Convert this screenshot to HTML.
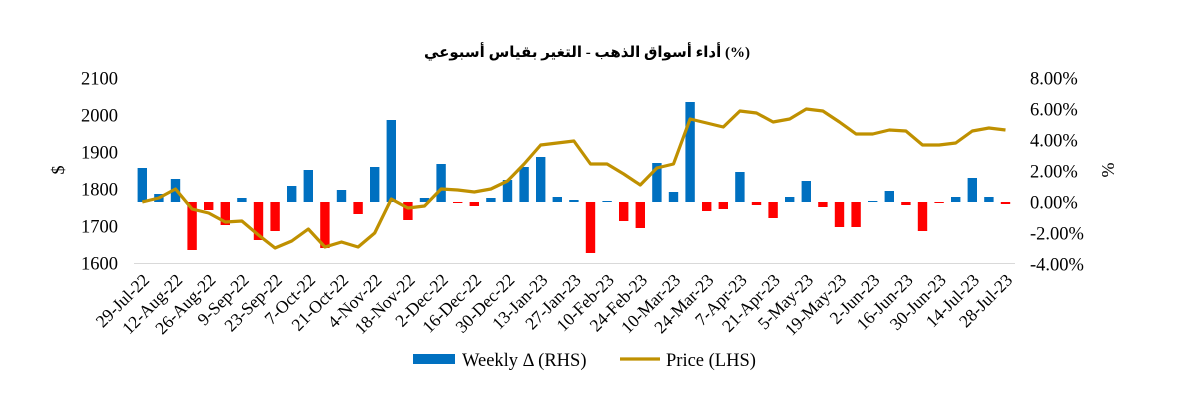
<!DOCTYPE html>
<html><head><meta charset="utf-8"><style>
html,body{margin:0;padding:0;background:#fff}
svg{display:block;font-family:"Liberation Serif","Noto Serif CJK SC",serif}
</style></head><body>
<svg width="1183" height="407" viewBox="0 0 1183 407" xmlns="http://www.w3.org/2000/svg">
<text x="587" y="57" text-anchor="middle" font-size="15" font-weight="bold" font-family="'Liberation Serif','DejaVu Sans',serif">أداء أسواق الذهب - التغير بقياس أسبوعي (%)</text>
<g font-size="18.5" fill="#000" text-anchor="end">
<text x="118" y="84.5">2100</text><text x="118" y="121.5">2000</text><text x="118" y="158.5">1900</text><text x="118" y="195.5">1800</text><text x="118" y="232.5">1700</text><text x="118" y="269.5">1600</text>
</g>
<g font-size="18.5" fill="#000">
<text x="1030" y="84.5">8.00%</text><text x="1030" y="115.5">6.00%</text><text x="1030" y="146.5">4.00%</text><text x="1030" y="177.5">2.00%</text><text x="1030" y="208.5">0.00%</text><text x="1030" y="239.5">-2.00%</text><text x="1030" y="270.5">-4.00%</text>
</g>
<text transform="translate(64,170) rotate(-90)" font-size="18" text-anchor="middle">$</text>
<text transform="translate(1114,170) rotate(-90)" font-size="18" text-anchor="middle">%</text>
<line x1="134" y1="263.5" x2="1015" y2="263.5" stroke="#d9d9d9" stroke-width="1"/>
<g fill="#0070C0">
<rect x="137.6" y="168" width="9.4" height="34"/>
<rect x="154.2" y="194" width="9.4" height="8"/>
<rect x="170.8" y="179" width="9.4" height="23"/>
<rect x="237.2" y="198" width="9.4" height="4"/>
<rect x="287.0" y="186" width="9.4" height="16"/>
<rect x="303.6" y="170" width="9.4" height="32"/>
<rect x="336.8" y="190" width="9.4" height="12"/>
<rect x="370.0" y="167" width="9.4" height="35"/>
<rect x="386.6" y="120" width="9.4" height="82"/>
<rect x="419.8" y="198" width="9.4" height="4"/>
<rect x="436.4" y="164" width="9.4" height="38"/>
<rect x="486.2" y="198" width="9.4" height="4"/>
<rect x="502.8" y="180" width="9.4" height="22"/>
<rect x="519.4" y="167" width="9.4" height="35"/>
<rect x="536.0" y="157" width="9.4" height="45"/>
<rect x="552.6" y="197" width="9.4" height="5"/>
<rect x="569.2" y="200" width="9.4" height="2"/>
<rect x="602.4" y="201" width="9.4" height="1"/>
<rect x="652.2" y="163" width="9.4" height="39"/>
<rect x="668.8" y="192" width="9.4" height="10"/>
<rect x="685.4" y="102" width="9.4" height="100"/>
<rect x="735.2" y="172" width="9.4" height="30"/>
<rect x="785.0" y="197" width="9.4" height="5"/>
<rect x="801.6" y="181" width="9.4" height="21"/>
<rect x="868.0" y="201" width="9.4" height="1"/>
<rect x="884.6" y="191" width="9.4" height="11"/>
<rect x="951.0" y="197" width="9.4" height="5"/>
<rect x="967.6" y="178" width="9.4" height="24"/>
<rect x="984.2" y="197" width="9.4" height="5"/>
</g>
<g fill="#FF0000">
<rect x="187.4" y="202" width="9.4" height="48"/>
<rect x="204.0" y="202" width="9.4" height="8"/>
<rect x="220.6" y="202" width="9.4" height="23"/>
<rect x="253.8" y="202" width="9.4" height="38"/>
<rect x="270.4" y="202" width="9.4" height="29"/>
<rect x="320.2" y="202" width="9.4" height="46"/>
<rect x="353.4" y="202" width="9.4" height="12"/>
<rect x="403.2" y="202" width="9.4" height="18"/>
<rect x="453.0" y="202" width="9.4" height="1"/>
<rect x="469.6" y="202" width="9.4" height="4"/>
<rect x="585.8" y="202" width="9.4" height="51"/>
<rect x="619.0" y="202" width="9.4" height="19"/>
<rect x="635.6" y="202" width="9.4" height="26"/>
<rect x="702.0" y="202" width="9.4" height="9"/>
<rect x="718.6" y="202" width="9.4" height="7"/>
<rect x="751.8" y="202" width="9.4" height="3"/>
<rect x="768.4" y="202" width="9.4" height="16"/>
<rect x="818.2" y="202" width="9.4" height="5"/>
<rect x="834.8" y="202" width="9.4" height="25"/>
<rect x="851.4" y="202" width="9.4" height="25"/>
<rect x="901.2" y="202" width="9.4" height="3"/>
<rect x="917.8" y="202" width="9.4" height="29"/>
<rect x="934.4" y="202" width="9.4" height="1"/>
<rect x="1000.8" y="202" width="9.4" height="2"/>
</g>
<polyline fill="none" stroke="#BF9000" stroke-width="3.2" stroke-linejoin="round" points="142.3,202 158.9,198 175.5,189 192.1,209 208.7,213 225.3,222 241.9,221 258.5,235 275.1,248 291.7,241 308.3,229 324.9,247 341.5,242 358.1,247 374.7,233 391.3,199 407.9,208 424.5,206 441.1,189 457.7,190 474.3,192 490.9,189 507.5,181 524.1,164 540.7,145 557.3,143 573.9,141 590.5,164 607.1,164 623.7,174 640.3,185 656.9,168 673.5,164 690.1,119 706.7,123 723.3,127 739.9,111 756.5,113 773.1,122 789.7,119 806.3,109 822.9,111 839.5,122 856.1,134 872.7,134 889.3,130 905.9,131 922.5,145 939.1,145 955.7,143 972.3,131 988.9,128 1005.5,130"/>
<g font-size="17.5" text-anchor="end">
<text transform="translate(150.3,281) rotate(-45)">29-Jul-22</text>
<text transform="translate(183.5,281) rotate(-45)">12-Aug-22</text>
<text transform="translate(216.7,281) rotate(-45)">26-Aug-22</text>
<text transform="translate(249.9,281) rotate(-45)">9-Sep-22</text>
<text transform="translate(283.1,281) rotate(-45)">23-Sep-22</text>
<text transform="translate(316.3,281) rotate(-45)">7-Oct-22</text>
<text transform="translate(349.5,281) rotate(-45)">21-Oct-22</text>
<text transform="translate(382.7,281) rotate(-45)">4-Nov-22</text>
<text transform="translate(415.9,281) rotate(-45)">18-Nov-22</text>
<text transform="translate(449.1,281) rotate(-45)">2-Dec-22</text>
<text transform="translate(482.3,281) rotate(-45)">16-Dec-22</text>
<text transform="translate(515.5,281) rotate(-45)">30-Dec-22</text>
<text transform="translate(548.7,281) rotate(-45)">13-Jan-23</text>
<text transform="translate(581.9,281) rotate(-45)">27-Jan-23</text>
<text transform="translate(615.1,281) rotate(-45)">10-Feb-23</text>
<text transform="translate(648.3,281) rotate(-45)">24-Feb-23</text>
<text transform="translate(681.5,281) rotate(-45)">10-Mar-23</text>
<text transform="translate(714.7,281) rotate(-45)">24-Mar-23</text>
<text transform="translate(747.9,281) rotate(-45)">7-Apr-23</text>
<text transform="translate(781.1,281) rotate(-45)">21-Apr-23</text>
<text transform="translate(814.3,281) rotate(-45)">5-May-23</text>
<text transform="translate(847.5,281) rotate(-45)">19-May-23</text>
<text transform="translate(880.7,281) rotate(-45)">2-Jun-23</text>
<text transform="translate(913.9,281) rotate(-45)">16-Jun-23</text>
<text transform="translate(947.1,281) rotate(-45)">30-Jun-23</text>
<text transform="translate(980.3,281) rotate(-45)">14-Jul-23</text>
<text transform="translate(1013.5,281) rotate(-45)">28-Jul-23</text>
</g>
<rect x="413" y="354" width="42" height="10" fill="#0070C0"/>
<text x="462" y="366" font-size="18.5">Weekly  Δ (RHS)</text>
<line x1="620" y1="359" x2="660" y2="359" stroke="#BF9000" stroke-width="3.2"/>
<text x="666" y="366" font-size="18.5">Price (LHS)</text>
</svg>
</body></html>
